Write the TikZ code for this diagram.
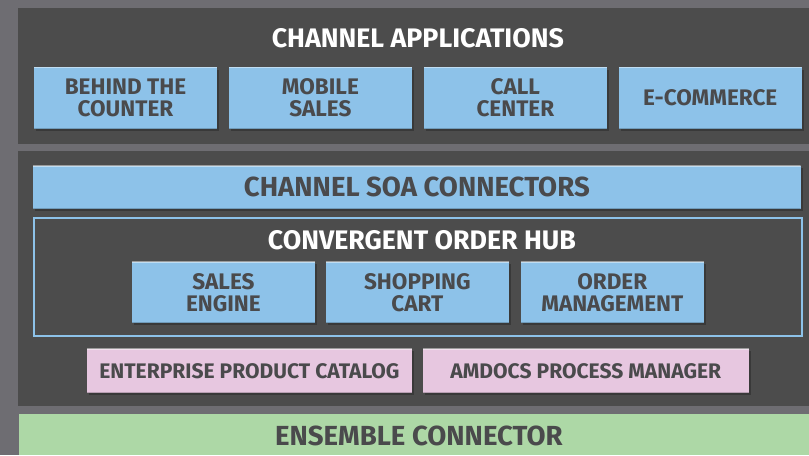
\documentclass[tikz,border=0pt]{standalone}
\usepackage{fontspec}
\usetikzlibrary{shadows}
\newfontfamily\df{Fira Sans Bold}
\definecolor{bg}{HTML}{6E6D72}
\definecolor{panel}{HTML}{4C4C4C}
\definecolor{sky}{HTML}{8DC2E9}
\definecolor{pinkb}{HTML}{E7C7E0}
\definecolor{greenb}{HTML}{ADD8A6}
\definecolor{txt}{HTML}{4A4A4C}
\begin{document}
\begin{tikzpicture}[x=0.75pt,y=-0.75pt,
  shade/.style={drop shadow={shadow xshift=1.5pt,shadow yshift=-1.8pt,opacity=0.75,fill=black!80}},
  bevel/.style={path picture={
    \draw[white,opacity=0.45,line width=1.2pt] (path picture bounding box.north west) -- (path picture bounding box.north east);
    \draw[black,opacity=0.2,line width=1.5pt] (path picture bounding box.south west) -- (path picture bounding box.south east);}},
  bluebox/.style={fill=sky,shade,bevel,text=txt,align=center,inner sep=0pt,
    minimum width=137.25pt,minimum height=46.3pt,
    font=\df\fontsize{16.9}{16.5}\selectfont},
  pinkbox/.style={fill=pinkb,shade,bevel,text=txt,align=center,inner sep=0pt,
    minimum height=33pt,font=\df\fontsize{15.8}{16}\selectfont},
  bar/.style={fill=sky,shade,bevel,text=txt,inner sep=0pt,minimum width=576pt,
    minimum height=32.25pt,font=\df\fontsize{20.7}{20}\selectfont},
  heading/.style={text=white,inner sep=0pt,font=\df\fontsize{20.1}{20}\selectfont}]
\fill[bg] (0,0) rectangle (809,455);
\fill[panel] (18,8) rectangle (809,144);
\fill[panel] (18,151) rectangle (809,406);
\node[fill=greenb,inner sep=0pt,anchor=north west,minimum width=592.5pt,minimum height=30.75pt] (ens) at (19,414) {};
\node[text=txt,font=\df\fontsize{20.7}{20}\selectfont] (enst) at (419,436) {ENSEMBLE CONNECTOR};

\node[heading] (chapp) at (418,38) {CHANNEL APPLICATIONS};
\node[bluebox] (btc) at (125.5,98) {BEHIND THE\\COUNTER};
\node[bluebox] (mob) at (320.5,98) {MOBILE\\SALES};
\node[bluebox] (call) at (515.5,98) {CALL\\CENTER};
\node[bluebox] (ecom) at (710.5,98) {E-COMMERCE};

\node[bar] (soa) at (417,187.5) {CHANNEL SOA CONNECTORS};
\node[draw=sky,line width=1.2pt,inner sep=0pt,minimum width=576pt,minimum height=88.5pt] (hub) at (418,277) {};
\draw[black!70,line width=0.8pt] ([shift={(1.8pt,-1.6pt)}]hub.north west) -- ([shift={(-1.6pt,-1.6pt)}]hub.north east) -- ([shift={(-1.6pt,1.6pt)}]hub.south east);
\node[heading] (hubt) at (422,240) {CONVERGENT ORDER HUB};
\node[bluebox,minimum height=45.75pt] (sales) at (223.5,292.5) {SALES\\ENGINE};
\node[bluebox,minimum height=45.75pt] (cart) at (417.5,292.5) {SHOPPING\\CART};
\node[bluebox,minimum height=45.75pt] (om) at (612.5,292.5) {ORDER\\MANAGEMENT};

\node[pinkbox,minimum width=243.75pt] (epc) at (249.5,371) {ENTERPRISE PRODUCT CATALOG};
\node[pinkbox,minimum width=244.5pt] (apm) at (586,371) {AMDOCS PROCESS MANAGER};
\end{tikzpicture}
\end{document}
